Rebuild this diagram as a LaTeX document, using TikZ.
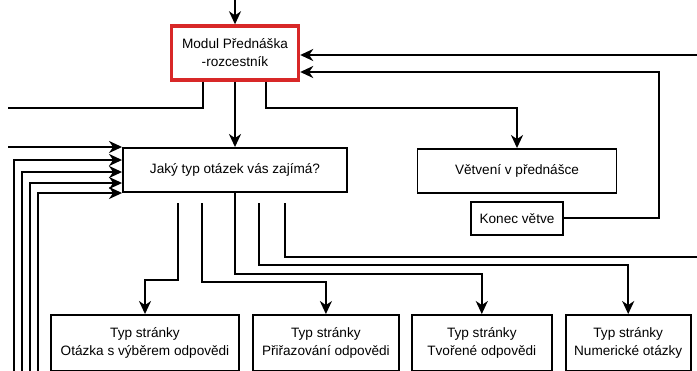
\documentclass[tikz,border=0pt]{standalone}
\usepackage{fontspec}
\setmainfont{Liberation Sans}
\usepackage{tikz}
\usetikzlibrary{arrows.meta,positioning}
\definecolor{modred}{RGB}{216,40,40}

\begin{document}
\begin{tikzpicture}[
x=1pt,y=-1pt,
font=\fontsize{13.6}{18}\selectfont,
node distance=12pt,
box/.style={draw,line width=1.9pt,minimum height=44pt,align=center,inner sep=2pt},
redbox/.style={box,draw=modred,line width=3.4pt},
typbox/.style={box,minimum height=56pt},
arrow/.style={-{Stealth[length=13pt,width=12pt,inset=4pt]},line width=1.9pt},
link/.style={line width=1.9pt}
]
\useasboundingbox (0,0) rectangle (697,370);
\clip (0,0) rectangle (697,370);
\node[redbox,minimum width=127pt,minimum height=54pt] (modul) at (235,53) {Modul Přednáška\\-rozcestník};
\node[box,minimum width=224pt] (jaky) at (235,170) {Jaký typ otázek vás zajímá?};
\node[box,minimum width=199pt] (vetveni) at (517,171) {Větvení v přednášce};
\node[box,minimum width=92pt,minimum height=33pt,below=7pt of vetveni] (konec) {Konec větve};
\node[typbox,minimum width=188pt] (typ1) at (145,343) {Typ stránky\\Otázka s výběrem odpovědi};
\node[typbox,minimum width=146pt,right=12pt of typ1] (typ2) {Typ stránky\\Přiřazování odpovědi};
\node[typbox,minimum width=140pt,right=11pt of typ2] (typ3) {Typ stránky\\Tvořené odpovědi};
\node[typbox,minimum width=125pt,right=12pt of typ3] (typ4) {Typ stránky\\Numerické otázky};
% into the module
\coordinate (top) at (235,-4);
\coordinate (back) at (700,55);
\draw[arrow] (top) -- (top |- modul.north);
\draw[arrow] (back) -- (back -| modul.east);
\draw[arrow] (konec.east) -| (659,72) -- (modul.east |- 0,72);
% out of the module
\coordinate (left) at (8,108);
\draw[link] ([xshift=-32pt]modul.south) |- (left);
\draw[arrow] (modul) -- (jaky);
\draw[arrow] ([xshift=31pt]modul.south) -- ++(0,26) -| (vetveni.north);
% returns into the question
\coordinate (l0) at (8,147);
\draw[arrow] (l0) -- (l0 -| jaky.west);
\foreach \x/\y [count=\i] in {14/160,22/172,30/183,38/193}{
  \coordinate (l\i) at (\x,372);
  \draw[arrow] (l\i) |- (jaky.west |- 0,\y);
}
% question types
\coordinate (s1) at (178,203);
\coordinate (s2) at (202,203);
\coordinate (s4) at (259,203);
\coordinate (s5) at (285,203);
\coordinate (out) at (700,257);
\draw[arrow] (s1) -- (s1 |- 0,280) -| (typ1.north);
\draw[arrow] (s2) -- (s2 |- 0,282) -| (typ2.north);
\draw[arrow] (jaky.south) -- ++(0,81) -| (typ3.north);
\draw[arrow] (s4) -- (s4 |- 0,265) -| (typ4.north);
\draw[link] (s5) |- (out);
\end{tikzpicture}
\end{document}
